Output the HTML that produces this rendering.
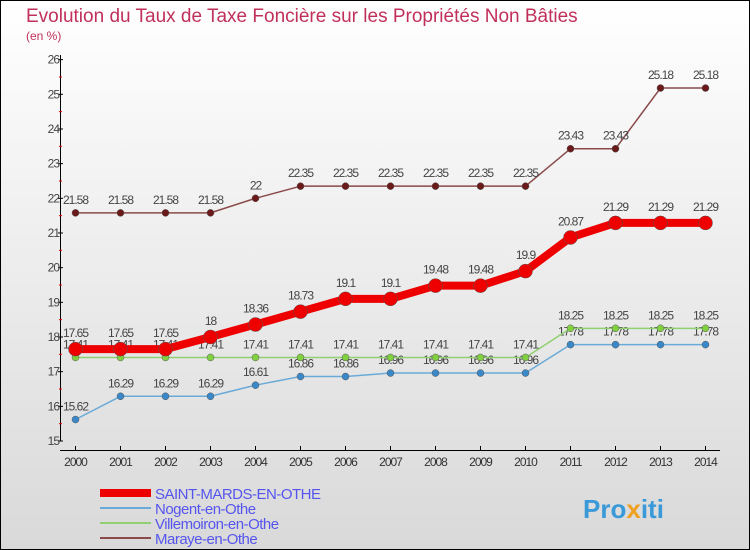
<!DOCTYPE html>
<html><head><meta charset="utf-8"><style>
html,body{margin:0;padding:0}
body{width:750px;height:550px;overflow:hidden;font-family:"Liberation Sans",sans-serif}
svg{display:block}
</style></head><body>
<svg id="chart" width="750" height="550" xmlns="http://www.w3.org/2000/svg">
<defs><linearGradient id="bg" x1="0" y1="0" x2="0" y2="1"><stop offset="0" stop-color="#ffffff"/><stop offset="1" stop-color="#d9d9d9"/></linearGradient></defs>
<rect x="0.5" y="0.5" width="749" height="549" fill="url(#bg)" stroke="#000"/>
<text x="26" y="22" font-size="19" fill="#c0305a">Evolution du Taux de Taxe Foncière sur les Propriétés Non Bâties</text>
<text x="26" y="40" font-size="12" fill="#c0305a">(en %)</text>
<g id="axes"></g>
<g id="series"></g>
<g id="legend"></g>
<text x="583" y="518" font-size="26" font-weight="bold" fill="#3a9ad9">Pro<tspan fill="#f0a020">x</tspan>iti</text>
</svg>
<script>
const years=[2000,2001,2002,2003,2004,2005,2006,2007,2008,2009,2010,2011,2012,2013,2014];
const yTicks=[15,16,17,18,19,20,21,22,23,24,25,26];
const saint=[17.65,17.65,17.65,18,18.36,18.73,19.1,19.1,19.48,19.48,19.9,20.87,21.29,21.29,21.29];
const nogent=[15.62,16.29,16.29,16.29,16.61,16.86,16.86,16.96,16.96,16.96,16.96,17.78,17.78,17.78,17.78];
const villemoiron=[17.41,17.41,17.41,17.41,17.41,17.41,17.41,17.41,17.41,17.41,17.41,18.25,18.25,18.25,18.25];
const maraye=[21.58,21.58,21.58,21.58,22,22.35,22.35,22.35,22.35,22.35,22.35,23.43,23.43,25.18,25.18];
const seriesNames=["SAINT-MARDS-EN-OTHE","Nogent-en-Othe","Villemoiron-en-Othe","Maraye-en-Othe"];

const NS="http://www.w3.org/2000/svg";
const X=i=>75.5+i*45;
const Y=v=>441-(v-15)*34.67;
function mk(tag,attrs,parent){const e=document.createElementNS(NS,tag);for(const k in attrs)e.setAttribute(k,attrs[k]);parent.appendChild(e);return e;}
const axes=document.getElementById('axes');
let a=mk('line',{x1:60.5,y1:55,x2:60.5,y2:441,stroke:'#000'},axes);


a=mk('line',{x1:60,y1:450.5,x2:720,y2:450.5,stroke:'#000'},axes);


yTicks.forEach((t,i)=>{
  mk('line',{x1:58,y1:Y(t),x2:63,y2:Y(t),stroke:'#000'},axes);
  if(i<yTicks.length-1) mk('line',{x1:59,y1:Y(t+0.5),x2:62,y2:Y(t+0.5),stroke:'#e00'},axes);
  const tx=mk('text',{x:59,y:Y(t)+4,'font-size':12,'text-anchor':'end',fill:'#444','letter-spacing':'-1'},axes);
  tx.textContent=t;
  
  
});
years.forEach((yr,i)=>{
  mk('line',{x1:X(i),y1:446,x2:X(i),y2:451,stroke:'#000'},axes);
  const tx=mk('text',{x:X(i),y:466,'font-size':12,'text-anchor':'middle',fill:'#333','letter-spacing':'-1'},axes);
  tx.textContent=yr;
  
  
});
const sg=document.getElementById('series');
function draw(data,color,width,r,dotColor,name,labelDy){
  const g=mk('g',{},sg);
  
  
  const pl=mk('polyline',{points:data.map((v,i)=>X(i)+','+Y(v)).join(' '),fill:'none',stroke:color,'stroke-width':width,'stroke-linejoin':'round'},g);
  
  
  data.forEach((v,i)=>{
    const c=mk('circle',{cx:X(i),cy:Y(v),r:r,fill:dotColor,stroke:'#555','stroke-width':0.5},g);
    
    
    const t=mk('text',{x:X(i),y:Y(v)+labelDy,'font-size':12,'text-anchor':'middle',fill:'#444','letter-spacing':'-1'},g);
    t.textContent=v;
    
    
  });
}
draw(maraye,'#8b4a4a',1.5,3.5,'#6b1a1a','maraye-series',-9);
draw(nogent,'#6aaad8',1.5,3.5,'#3a88c8','nogent-series',-9);
draw(villemoiron,'#90d070',1.5,3.5,'#80d040','villemoiron-series',-9);
draw(saint,'#ee0000',8,7,'#ee0000','saint-mards-series',-12);
const lg=document.getElementById('legend');
const lc=['#ee0000','#6aaad8','#90d070','#8b4a4a'],lw=[8,2,2,2];
seriesNames.forEach((n,i)=>{
  const y=493+i*15;
  const l=mk('line',{x1:100,y1:y,x2:151,y2:y,stroke:lc[i],'stroke-width':lw[i]},lg);
  
  
  const t=mk('text',{x:155,y:y+6,'font-size':15,fill:'#5555ee','letter-spacing':'-0.5'},lg);
  t.textContent=n;
  
  
});
</script>
</body></html>
